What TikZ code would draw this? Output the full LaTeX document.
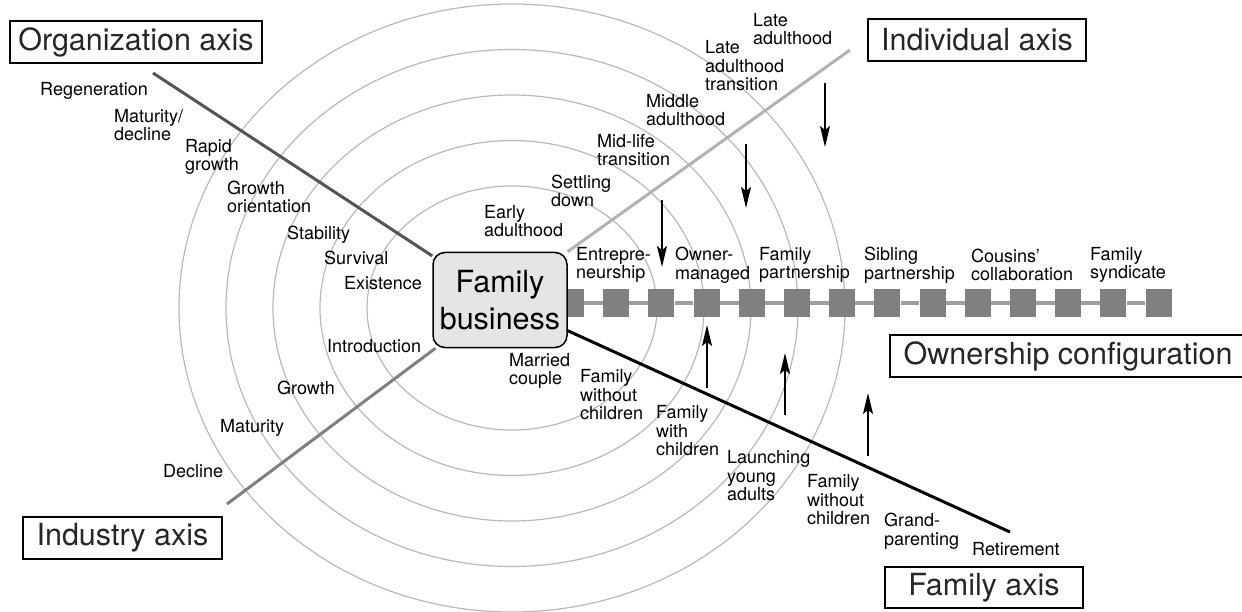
\documentclass[tikz,border=0pt]{standalone}
\usepackage{fontspec}
\setmainfont{TeX Gyre Heros}
\usetikzlibrary{arrows.meta}
\definecolor{ringcol}{gray}{0.72}
\definecolor{orgcol}{gray}{0.33}
\definecolor{indivcol}{gray}{0.70}
\definecolor{indcol}{gray}{0.50}
\definecolor{sqcol}{gray}{0.50}
\definecolor{chaincol}{gray}{0.62}
\definecolor{boxfill}{gray}{0.90}
\tikzset{
  ring/.style={draw=ringcol, line width=1.2pt},
  axisline/.style={line width=3pt},
  axisbox/.style={draw, line width=1.3pt, inner sep=0pt, minimum height=42pt, text=black!85, font=\fontsize{30.5}{37}\selectfont},
  stage/.style={anchor=west, align=left, inner sep=0pt, font=\fontsize{18}{18.5}\selectfont},
  block/.style={fill=sqcol, minimum width=26pt, minimum height=28pt, inner sep=0pt},
  chain/.style={draw=chaincol, line width=4pt},
  flow/.style={line width=1.4pt, -{Stealth[length=21pt,width=10pt,inset=4pt]}},
}
\begin{document}
\begin{tikzpicture}[x=1pt,y=-1pt]
\useasboundingbox (0,0) rectangle (1242,612);

\foreach \i in {0,...,4}
  \draw[ring] (512,308) ellipse [x radius={145+47*\i}, y radius={122+45.5*\i}];

\foreach \i in {0,...,13}
  \node[block] (sq\i) at ({571+45.2*\i},303) {};
\foreach \i [count=\j from 1] in {0,...,12}
  \draw[chain] (sq\i) -- (sq\j);

\node[draw, line width=1.5pt, fill=boxfill, rounded corners=12pt, minimum width=134pt, minimum height=95pt,
  inner sep=0pt, align=center, font=\fontsize{30.5}{37}\selectfont] (fb) at (500,300) {Family\\business};

\coordinate (orgEnd) at (153,73);
\coordinate (indivEnd) at (850,50);
\coordinate (indEnd) at (227,504);
\coordinate (famEnd) at (1010,532);
\draw[axisline, draw=orgcol] (orgEnd) -- (fb);
\draw[axisline, draw=indivcol] (indivEnd) -- (fb);
\draw[axisline, draw=indcol] (indEnd) -- (fb);
\draw[axisline] (famEnd) -- (fb);

\node[axisbox, minimum width=252pt] (orgAxis) at (136,42) {Organization axis};
\node[axisbox, minimum width=218pt] (indivAxis) at (977,40) {Individual axis};
\node[axisbox, minimum width=199pt] (indAxis) at (122.5,538) {Industry axis};
\node[axisbox, minimum width=198pt, minimum height=41pt] (famAxis) at (984,587.5) {Family axis};
\node[axisbox, minimum width=356pt] (ownAxis) at (1068,356) {Ownership configuration};

\node[stage] (regen) at (40,91) {Regeneration};
\node[stage] (matdec) at (114,125) {Maturity/\\decline};
\node[stage] (rapid) at (185,157) {Rapid\\growth};
\node[stage] (grorient) at (227,197) {Growth\\orientation};
\node[stage] (stab) at (287,235) {Stability};
\node[stage] (surv) at (324,258) {Survival};
\node[stage] (exist) at (344,283) {Existence};

\node[stage] (intro) at (327,346) {Introduction};
\node[stage] (growth) at (277,388) {Growth};
\node[stage] (matur) at (220,428) {Maturity};
\node[stage] (decl) at (163,471) {Decline};

\node[stage] (early) at (484,221) {Early\\adulthood};
\node[stage] (settle) at (551,191) {Settling\\down};
\node[stage] (midlife) at (597,150) {Mid-life\\transition};
\node[stage] (middle) at (646,110) {Middle\\adulthood};
\node[stage] (latetr) at (705,66) {Late\\adulthood\\transition};
\node[stage] (late) at (753,29) {Late\\adulthood};

\node[stage] (entre) at (576,265) {Entrepre-\\neurship};
\node[stage] (ownman) at (675,265) {Owner-\\managed};
\node[stage] (fampart) at (759,265) {Family\\partnership};
\node[stage] (sibpart) at (864,265) {Sibling\\partnership};
\node[stage] (cousins) at (971,265) {Cousins'\\collaboration};
\node[stage] (synd) at (1090,265) {Family\\syndicate};

\node[stage] (married) at (509,371) {Married\\couple};
\node[stage] (fwc1) at (580,395) {Family\\without\\children};
\node[stage] (fwithc) at (656,431) {Family\\with\\children};
\node[stage] (launch) at (727,476) {Launching\\young\\adults};
\node[stage] (fwc2) at (807,500) {Family\\without\\children};
\node[stage] (grand) at (884,531) {Grand-\\parenting};
\node[stage] (retire) at (972,549) {Retirement};

\foreach \n/\x/\ya/\yb in {1/662/200/267, 2/746/144/208, 3/825/83/147, 4/707/388/325, 5/785/415/353, 6/868/456/393} {
  \coordinate (from\n) at (\x,\ya);
  \coordinate (to\n) at (\x,\yb);
  \draw[flow] (from\n) -- (to\n);
}
\end{tikzpicture}
\end{document}
